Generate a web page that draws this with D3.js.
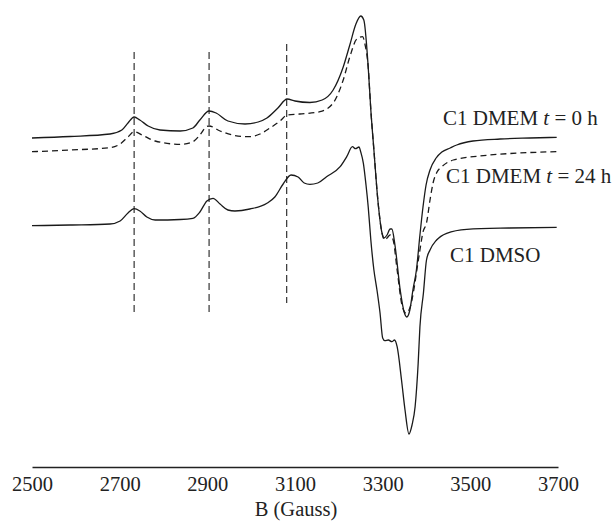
<!DOCTYPE html>
<html>
<head>
<meta charset="utf-8">
<script src="https://cdn.jsdelivr.net/npm/d3@7"></script>
<style>
  body { margin: 0; background: #fff; }
  svg text { font-family: "Liberation Serif", "Times New Roman", serif; fill: #222; }
</style>
</head>
<body>
<div id="chart"></div>
<script>
// magnetic field (Gauss) and signal (arbitrary units)
const fieldDmem0 = [2500, 2587, 2678, 2705, 2719, 2733, 2746, 2765, 2792, 2838, 2867, 2883, 2904, 2920, 2947, 2986, 3016, 3036, 3061, 3082, 3100, 3134, 3162, 3187, 3210, 3225, 3239, 3250, 3257, 3267, 3273, 3280, 3289, 3298, 3303, 3310, 3317, 3321, 3328, 3340, 3349, 3355, 3362, 3369, 3377, 3385, 3392, 3399, 3408, 3422, 3435, 3454, 3469, 3506, 3568, 3636, 3697];
const signalDmem0 = [92, 93.5, 96, 100, 107, 113, 110, 104, 100, 99, 102, 110, 119, 117, 109, 106, 108, 112, 122, 131, 129, 127.5, 130, 140, 163, 185, 206, 214, 210, 163, 120, 80, 30, -2, -8, -5, 1, 1, -15, -60, -82, -87, -80, -60, -40, -5, 23, 45, 60, 72, 78, 82, 85, 89, 91, 92, 92.7];

const fieldDmem24 = [2500, 2587, 2678, 2701, 2719, 2733, 2751, 2781, 2838, 2867, 2883, 2897, 2904, 2929, 2963, 2993, 3020, 3043, 3066, 3082, 3111, 3157, 3187, 3210, 3225, 3241, 3254, 3260, 3267, 3273, 3280, 3289, 3298, 3305, 3310, 3317, 3324, 3333, 3344, 3353, 3362, 3371, 3378, 3385, 3392, 3400, 3408, 3415, 3424, 3435, 3461, 3522, 3613, 3697];
const signalDmem24 = [78.3, 80, 82.3, 86, 93, 98.3, 95, 89, 85.7, 88.3, 95, 103, 104, 99, 94.5, 93.3, 96, 102, 109, 115, 116, 118.3, 127, 150, 173, 191, 193.3, 185, 163, 120, 80, 30, -2, -10, -8, -5, -10, -40, -75, -83, -78, -60, -40, -20, -2, 7, 30, 47, 58, 63.3, 70, 74, 77, 78.3];

const fieldDmso = [2500, 2587, 2678, 2701, 2719, 2733, 2746, 2762, 2781, 2838, 2867, 2883, 2899, 2913, 2929, 2947, 2963, 2997, 3036, 3054, 3073, 3091, 3107, 3121, 3134, 3152, 3172, 3203, 3218, 3231, 3238, 3246, 3250, 3256, 3262, 3267, 3273, 3280, 3287, 3294, 3300, 3305, 3313, 3321, 3327, 3333, 3343, 3351, 3360, 3367, 3374, 3381, 3385, 3393, 3400, 3408, 3423, 3446, 3492, 3590, 3697];
const signalDmso = [4.3, 5, 6, 9, 17, 21.3, 19, 13, 10, 10.5, 11.7, 18, 29, 31.7, 26, 20, 19, 21, 26.7, 33, 46, 55, 53, 47, 45.7, 47, 53.3, 63.3, 73.3, 83.3, 81.3, 83, 78, 66.7, 45, 23.3, -10, -40, -60, -83, -108, -110.7, -110, -111.7, -110, -116.7, -150, -180, -204, -195, -176.7, -133.3, -96.7, -63, -30, -20, -10, -3.3, 0.7, 2, 2.7];

// reference lines at the hyperfine peaks
const markerFields = [2733, 2904, 3081];
const markerTop = [178, 178, 186];
const markerBottom = [-82, -82, -73];

const xTicks = [2500, 2700, 2900, 3100, 3300, 3500, 3700];
const xTitle = 'B (Gauss)';

const width = 615, height = 521;
const svg = d3.select('#chart').append('svg')
    .attr('width', width)
    .attr('height', height);

const xScale = d3.scaleLinear().domain([2500, 3700]).range([32, 558]);
const yScale = d3.scaleLinear().domain([-240, 230]).range([470, 0]);

const line = d3.line()
    .x(d => xScale(d[0]))
    .y(d => yScale(d[1]))
    .curve(d3.curveMonotoneX);

const traces = [
    { field: fieldDmem0, signal: signalDmem0, dash: null },
    { field: fieldDmem24, signal: signalDmem24, dash: '6,4' },
    { field: fieldDmso, signal: signalDmso, dash: null }
];

// vertical dashed markers
svg.selectAll('.marker')
    .data(markerFields)
    .enter().append('line')
    .attr('class', 'marker')
    .attr('x1', d => xScale(d))
    .attr('x2', d => xScale(d))
    .attr('y1', (d, i) => yScale(markerTop[i]))
    .attr('y2', (d, i) => yScale(markerBottom[i]))
    .style('stroke', '#333')
    .style('stroke-width', 1.2)
    .style('stroke-dasharray', '7,4');

traces.forEach(t => {
    svg.append('path')
        .datum(t.field.map((f, i) => [f, t.signal[i]]))
        .attr('d', line)
        .style('fill', 'none')
        .style('stroke', '#1a1a1a')
        .style('stroke-width', 1.3)
        .style('stroke-dasharray', t.dash);
});

// x axis
const xAxis = d3.axisBottom(xScale)
    .tickValues(xTicks)
    .tickFormat(d3.format('d'))
    .tickSize(0)
    .tickPadding(9);

const axisG = svg.append('g')
    .attr('transform', 'translate(0, 467)')
    .call(xAxis);
axisG.select('.domain').style('stroke', '#222').style('stroke-width', 1.3);
axisG.selectAll('text')
    .style('font-family', '"Liberation Serif", "Times New Roman", serif')
    .style('font-size', '20.5px')
    .style('fill', '#222');

svg.append('text')
    .attr('x', xScale(3100) + 1)
    .attr('y', 516)
    .attr('text-anchor', 'middle')
    .style('font-size', '20.5px')
    .text(xTitle);

// trace labels
const labels = [
    { x: 443, y: 125, parts: ['C1 DMEM ', 't', ' = 0 h'] },
    { x: 446, y: 183, parts: ['C1 DMEM ', 't', ' = 24 h'] },
    { x: 450, y: 262, parts: ['C1 DMSO'] }
];
labels.forEach(l => {
    const t = svg.append('text')
        .attr('x', l.x)
        .attr('y', l.y)
        .style('font-size', '21px');
    l.parts.forEach((p, i) => {
        t.append('tspan')
            .style('font-style', i === 1 ? 'italic' : 'normal')
            .text(p);
    });
});
</script>
</body>
</html>
